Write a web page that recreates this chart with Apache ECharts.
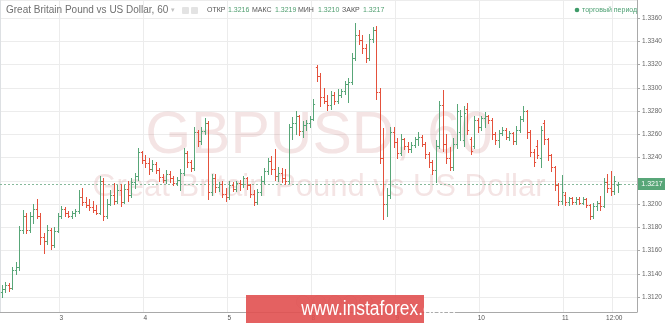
<!DOCTYPE html>
<html><head><meta charset="utf-8">
<script src="https://cdn.jsdelivr.net/npm/echarts@6/dist/echarts.min.js"></script>
<style>html,body{margin:0;padding:0;background:#fff;}#c{width:665px;height:323px;}</style>
</head><body><div id="c"></div>
<script>
// ---- data (GBPUSD, H1) ----
const opens = [
1.3124,1.3127,1.3130,1.3128,1.3143,1.3146,1.3178,1.3190,1.3178,1.3190,
1.3196,1.3190,1.3172,1.3168,1.3178,1.3165,1.3177,1.3190,1.3196,1.3192,
1.3190,1.3192,1.3194,1.3206,1.3202,1.3199,1.3197,1.3195,1.3192,1.3220,
1.3190,1.3200,1.3208,1.3203,1.3212,1.3202,1.3213,1.3208,1.3219,1.3224,
1.3245,1.3238,1.3235,1.3230,1.3234,1.3229,1.3223,1.3221,1.3226,1.3222,
1.3218,1.3221,1.3227,1.3244,1.3236,1.3231,1.3262,1.3254,1.3263,1.3270,
1.3210,1.3222,1.3215,1.3217,1.3209,1.3206,1.3216,1.3213,1.3218,1.3217,
1.3222,1.3216,1.3209,1.3202,1.3210,1.3220,1.3228,1.3237,1.3230,1.3224,
1.3227,1.3222,1.3220,1.3266,1.3270,1.3276,1.3263,1.3268,1.3270,1.3273,
1.3318,1.3310,1.3292,1.3289,1.3285,1.3294,1.3289,1.3294,1.3297,1.3303,
1.3305,1.3326,1.3345,1.3341,1.3334,1.3326,1.3342,1.3350,1.3296,1.3240,
1.3200,1.3208,1.3262,1.3253,1.3244,1.3256,1.3250,1.3247,1.3251,1.3256,
1.3258,1.3252,1.3243,1.3236,1.3229,1.3250,1.3285,1.3252,1.3240,1.3232,
1.3252,1.3262,1.3255,1.3282,1.3256,1.3250,1.3272,1.3266,1.3274,1.3276,
1.3272,1.3260,1.3255,1.3261,1.3264,1.3258,1.3261,1.3254,1.3264,1.3273,
1.3280,1.3262,1.3245,1.3250,1.3240,1.3270,1.3256,1.3242,1.3232,1.3216,
1.3203,1.3208,1.3202,1.3205,1.3202,1.3204,1.3201,1.3204,1.3199,1.3190,
1.3198,1.3201,1.3198,1.3219,1.3214,1.3211,1.3216];
const highs = [
1.3130,1.3133,1.3132,1.3146,1.3150,1.3181,1.3195,1.3192,1.3193,1.3200,
1.3204,1.3192,1.3175,1.3182,1.3179,1.3180,1.3192,1.3198,1.3197,1.3194,
1.3194,1.3196,1.3212,1.3214,1.3206,1.3204,1.3203,1.3199,1.3224,1.3222,
1.3204,1.3212,1.3218,1.3216,1.3217,1.3216,1.3220,1.3222,1.3227,1.3248,
1.3246,1.3242,1.3240,1.3238,1.3236,1.3231,1.3226,1.3229,1.3228,1.3224,
1.3223,1.3230,1.3248,1.3246,1.3238,1.3266,1.3264,1.3266,1.3274,1.3271,
1.3226,1.3226,1.3219,1.3220,1.3214,1.3220,1.3219,1.3220,1.3221,1.3224,
1.3223,1.3217,1.3212,1.3213,1.3224,1.3231,1.3240,1.3241,1.3247,1.3232,
1.3231,1.3230,1.3269,1.3275,1.3280,1.3277,1.3271,1.3272,1.3276,1.3290,
1.3320,1.3313,1.3300,1.3294,1.3297,1.3296,1.3299,1.3299,1.3306,1.3308,
1.3330,1.3356,1.3350,1.3345,1.3338,1.3346,1.3352,1.3353,1.3300,1.3265,
1.3214,1.3266,1.3266,1.3257,1.3260,1.3257,1.3253,1.3253,1.3258,1.3262,
1.3259,1.3253,1.3245,1.3238,1.3255,1.3289,1.3298,1.3260,1.3249,1.3257,
1.3286,1.3281,1.3284,1.3287,1.3258,1.3276,1.3274,1.3276,1.3279,1.3277,
1.3274,1.3262,1.3264,1.3266,1.3265,1.3263,1.3262,1.3267,1.3276,1.3284,
1.3281,1.3264,1.3247,1.3255,1.3267,1.3272,1.3257,1.3243,1.3233,1.3218,
1.3225,1.3210,1.3206,1.3206,1.3206,1.3206,1.3206,1.3205,1.3200,1.3201,
1.3203,1.3207,1.3222,1.3226,1.3228,1.3224,1.3219];
const lows = [
1.3120,1.3124,1.3125,1.3127,1.3140,1.3143,1.3175,1.3175,1.3176,1.3184,
1.3188,1.3166,1.3158,1.3166,1.3161,1.3163,1.3176,1.3188,1.3190,1.3189,
1.3188,1.3190,1.3192,1.3199,1.3197,1.3195,1.3193,1.3191,1.3191,1.3186,
1.3188,1.3199,1.3200,1.3201,1.3198,1.3201,1.3203,1.3206,1.3214,1.3221,
1.3235,1.3232,1.3226,1.3228,1.3227,1.3220,1.3219,1.3218,1.3219,1.3216,
1.3216,1.3212,1.3225,1.3232,1.3228,1.3229,1.3250,1.3252,1.3260,1.3204,
1.3208,1.3210,1.3211,1.3206,1.3203,1.3204,1.3211,1.3211,1.3212,1.3215,
1.3213,1.3206,1.3199,1.3200,1.3208,1.3218,1.3226,1.3226,1.3221,1.3220,
1.3219,1.3217,1.3218,1.3256,1.3260,1.3259,1.3258,1.3264,1.3266,1.3272,
1.3306,1.3284,1.3287,1.3281,1.3282,1.3286,1.3287,1.3292,1.3295,1.3288,
1.3303,1.3324,1.3338,1.3330,1.3322,1.3324,1.3339,1.3290,1.3235,1.3187,
1.3190,1.3205,1.3249,1.3240,1.3242,1.3247,1.3245,1.3245,1.3249,1.3251,
1.3250,1.3240,1.3232,1.3226,1.3219,1.3248,1.3246,1.3235,1.3229,1.3229,
1.3248,1.3255,1.3250,1.3260,1.3243,1.3248,1.3262,1.3264,1.3266,1.3270,
1.3256,1.3252,1.3249,1.3259,1.3256,1.3255,1.3252,1.3252,1.3262,1.3271,
1.3257,1.3241,1.3233,1.3240,1.3232,1.3252,1.3238,1.3228,1.3212,1.3199,
1.3200,1.3199,1.3199,1.3200,1.3200,1.3200,1.3200,1.3197,1.3187,1.3188,
1.3195,1.3195,1.3197,1.3210,1.3208,1.3209,1.3210];
const closes = [
1.3127,1.3130,1.3128,1.3143,1.3146,1.3178,1.3190,1.3178,1.3190,1.3196,
1.3190,1.3172,1.3168,1.3178,1.3165,1.3177,1.3190,1.3196,1.3192,1.3190,
1.3192,1.3194,1.3206,1.3202,1.3199,1.3197,1.3195,1.3192,1.3220,1.3190,
1.3200,1.3208,1.3203,1.3212,1.3202,1.3213,1.3208,1.3219,1.3224,1.3245,
1.3238,1.3235,1.3230,1.3234,1.3229,1.3223,1.3221,1.3226,1.3222,1.3218,
1.3221,1.3227,1.3244,1.3236,1.3231,1.3262,1.3254,1.3263,1.3270,1.3210,
1.3222,1.3215,1.3217,1.3209,1.3206,1.3216,1.3213,1.3218,1.3217,1.3222,
1.3216,1.3209,1.3202,1.3210,1.3220,1.3228,1.3237,1.3230,1.3224,1.3227,
1.3222,1.3220,1.3266,1.3270,1.3276,1.3263,1.3268,1.3270,1.3273,1.3286,
1.3310,1.3292,1.3289,1.3285,1.3294,1.3289,1.3294,1.3297,1.3303,1.3305,
1.3326,1.3345,1.3341,1.3334,1.3326,1.3342,1.3350,1.3296,1.3240,1.3200,
1.3208,1.3262,1.3253,1.3244,1.3256,1.3250,1.3247,1.3251,1.3256,1.3258,
1.3252,1.3243,1.3236,1.3229,1.3250,1.3285,1.3252,1.3240,1.3232,1.3252,
1.3280,1.3276,1.3278,1.3264,1.3246,1.3272,1.3266,1.3274,1.3276,1.3272,
1.3260,1.3255,1.3261,1.3264,1.3258,1.3261,1.3254,1.3264,1.3273,1.3280,
1.3262,1.3245,1.3236,1.3242,1.3264,1.3256,1.3242,1.3232,1.3216,1.3203,
1.3210,1.3202,1.3205,1.3202,1.3204,1.3201,1.3204,1.3199,1.3190,1.3198,
1.3201,1.3198,1.3219,1.3214,1.3211,1.3220,1.3217];

const slotCount = 182;                       // hourly slots on the time axis
const tickIndex = [17, 41, 65, 89, 113, 137, 161, 175];
const tickText  = ['3', '4', '5', '8', '9', '10', '11', '12:00'];
const symbolTitle = 'Great Britain Pound vs US Dollar, 60';
const watermarkMain = 'GBPUSD, 60';
const watermarkSub = 'Great Britain Pound vs US Dollar';
const ohlcLabels = ['ОТКР', 'МАКС', 'МИН', 'ЗАКР'];
const legendText = 'торговый период';
const siteText = 'www.instaforex.com';

// ---- build ----
const GREEN = '#58a678', RED = '#e4513c', FONT = '"Liberation Sans", Arial, sans-serif';
const categories = Array.from({length: slotCount}, (_, i) => 'h' + i);
const bars = opens.map((o, i) => [i, o, closes[i], lows[i], highs[i]]);
const last = opens.length - 1;
const lastVals = [opens[last], highs[last], lows[last], closes[last]];
const tickMap = {};
tickIndex.forEach((k, j) => { tickMap[k] = tickText[j]; });
const isTick = (idx) => tickMap[idx] !== undefined;

function renderItem(params, api) {
  const i = api.value(0);
  const o = api.coord([i, api.value(1)]);
  const c = api.coord([i, api.value(2)]);
  const l = api.coord([i, api.value(3)]);
  const h = api.coord([i, api.value(4)]);
  const x = Math.round(o[0]) + 0.5;
  const color = api.value(2) >= api.value(1) ? GREEN : RED;
  const st = {stroke: color, lineWidth: 1};
  const oy = Math.round(o[1]) + 0.5, cy = Math.round(c[1]) + 0.5;
  return {type: 'group', children: [
    {type: 'line', shape: {x1: x, y1: Math.round(h[1]), x2: x, y2: Math.round(l[1]) + 1}, style: st},
    {type: 'line', shape: {x1: x - 1.6, y1: oy, x2: x, y2: oy}, style: st},
    {type: 'line', shape: {x1: x, y1: cy, x2: x + 1.6, y2: cy}, style: st}
  ]};
}

function txt(x, y, text, size, color, align, extra) {
  return Object.assign({type: 'text', x: x, y: y, z: 20, silent: true,
    style: {text: text, font: size + 'px ' + FONT, fill: color,
      align: align || 'left', textAlign: align || 'left',
      verticalAlign: 'middle', textVerticalAlign: 'middle'}}, extra || {});
}

const ohlcX = [[207, 228], [252, 275], [298, 318], [342, 363]];
const graphics = [
  // watermark
  Object.assign(txt(319, 137, watermarkMain, 59, 'rgba(200,120,120,0.2)', 'center'), {z: 1}),
  Object.assign(txt(319, 187, watermarkSub, 31, 'rgba(200,120,120,0.2)', 'center'), {z: 1}),
  // left border
  {type: 'line', z: 1, silent: true, shape: {x1: 0.5, y1: 0, x2: 0.5, y2: 312}, style: {stroke: '#dde0e3', lineWidth: 1}},
  // header
  txt(6, 10, symbolTitle, 10, '#707070', 'left'),
  txt(171, 10, '▾', 7, '#c0c0c0', 'left'),
  {type: 'rect', z: 20, silent: true, shape: {x: 182, y: 7, width: 7, height: 7, r: 1}, style: {fill: '#e3e3e3'}},
  {type: 'rect', z: 20, silent: true, shape: {x: 191, y: 7, width: 7, height: 7, r: 1}, style: {fill: '#e3e3e3'}},
  {type: 'circle', z: 20, silent: true, shape: {cx: 577, cy: 10, r: 2.3}, style: {fill: '#3f9b69'}},
  txt(582, 10, legendText, 7, '#4a9e70', 'left'),
  // zoom buttons behind banner
  ...[303, 319, 335, 350, 366].map(cx => ({type: 'circle', z: 18, silent: true, shape: {cx: cx, cy: 302, r: 6.5}, style: {fill: '#f6f6f6', stroke: '#d8d8d8', lineWidth: 1}})),
  // banner
  {type: 'rect', z: 21, silent: true, shape: {x: 246, y: 295, width: 178, height: 28}, style: {fill: 'rgba(225,80,80,0.9)'}},
  Object.assign(txt(335, 309, siteText, 20, '#ffffff', 'center'), {z: 22, scaleX: 0.87, originX: 335, originY: 309})
];
ohlcLabels.forEach((lab, j) => {
  graphics.push(txt(ohlcX[j][0], 10, lab, 7, '#555555', 'left'));
  graphics.push(txt(ohlcX[j][1], 10, lastVals[j].toFixed(4), 7, '#4f9e6f', 'left'));
});

const chart = echarts.init(document.getElementById('c'), null, {renderer: 'canvas'});
chart.setOption({
  animation: false,
  backgroundColor: '#ffffff',
  textStyle: {fontFamily: FONT},
  grid: {left: 0, right: 28, top: 0, bottom: 11, containLabel: false},
  xAxis: {
    type: 'category', data: categories, boundaryGap: true,
    axisLine: {show: true, lineStyle: {color: '#a9a9a9'}},
    axisTick: {show: false},
    axisLabel: {interval: (idx) => isTick(idx), formatter: (v, idx) => tickMap[idx] || '',
      fontSize: 6.5, color: '#555', margin: 3, fontFamily: FONT},
    splitLine: {show: true, interval: (idx) => isTick(idx), lineStyle: {color: '#ececec'}}
  },
  yAxis: {
    type: 'value', position: 'right', min: 1.31071, max: 1.33755, splitNumber: 13, scale: true,
    axisLine: {show: true, lineStyle: {color: '#a9a9a9'}},
    axisTick: {show: true, length: 3, lineStyle: {color: '#a9a9a9'}},
    axisLabel: {fontSize: 6.5, color: '#666', margin: 5, showMinLabel: false, showMaxLabel: false,
      formatter: (v) => v.toFixed(4), fontFamily: FONT},
    splitLine: {show: true, lineStyle: {color: '#ececec'}}
  },
  series: [{
    type: 'custom', renderItem: renderItem, data: bars, clip: true, z: 5,
    encode: {x: 0, y: [1, 2, 3, 4]}
  }]
});

// current price line + label, positioned through the value axis scale
const py = Math.round(chart.convertToPixel({yAxisIndex: 0}, closes[last])) + 0.5;
const gridRight = chart.convertToPixel({xAxisIndex: 0}, categories[slotCount - 1]) + 1.75;
graphics.push(
  {type: 'line', z: 4, silent: true, shape: {x1: 0, y1: py, x2: gridRight, y2: py}, style: {stroke: '#86b99b', lineWidth: 1, lineDash: [2, 2]}},
  {type: 'rect', z: 23, silent: true, shape: {x: gridRight + 1, y: py - 6.5, width: 28, height: 12}, style: {fill: GREEN}},
  txt(gridRight + 15, py, closes[last].toFixed(4), 7, '#ffffff', 'center', {z: 24})
);
chart.setOption({graphic: graphics});
</script></body></html>
